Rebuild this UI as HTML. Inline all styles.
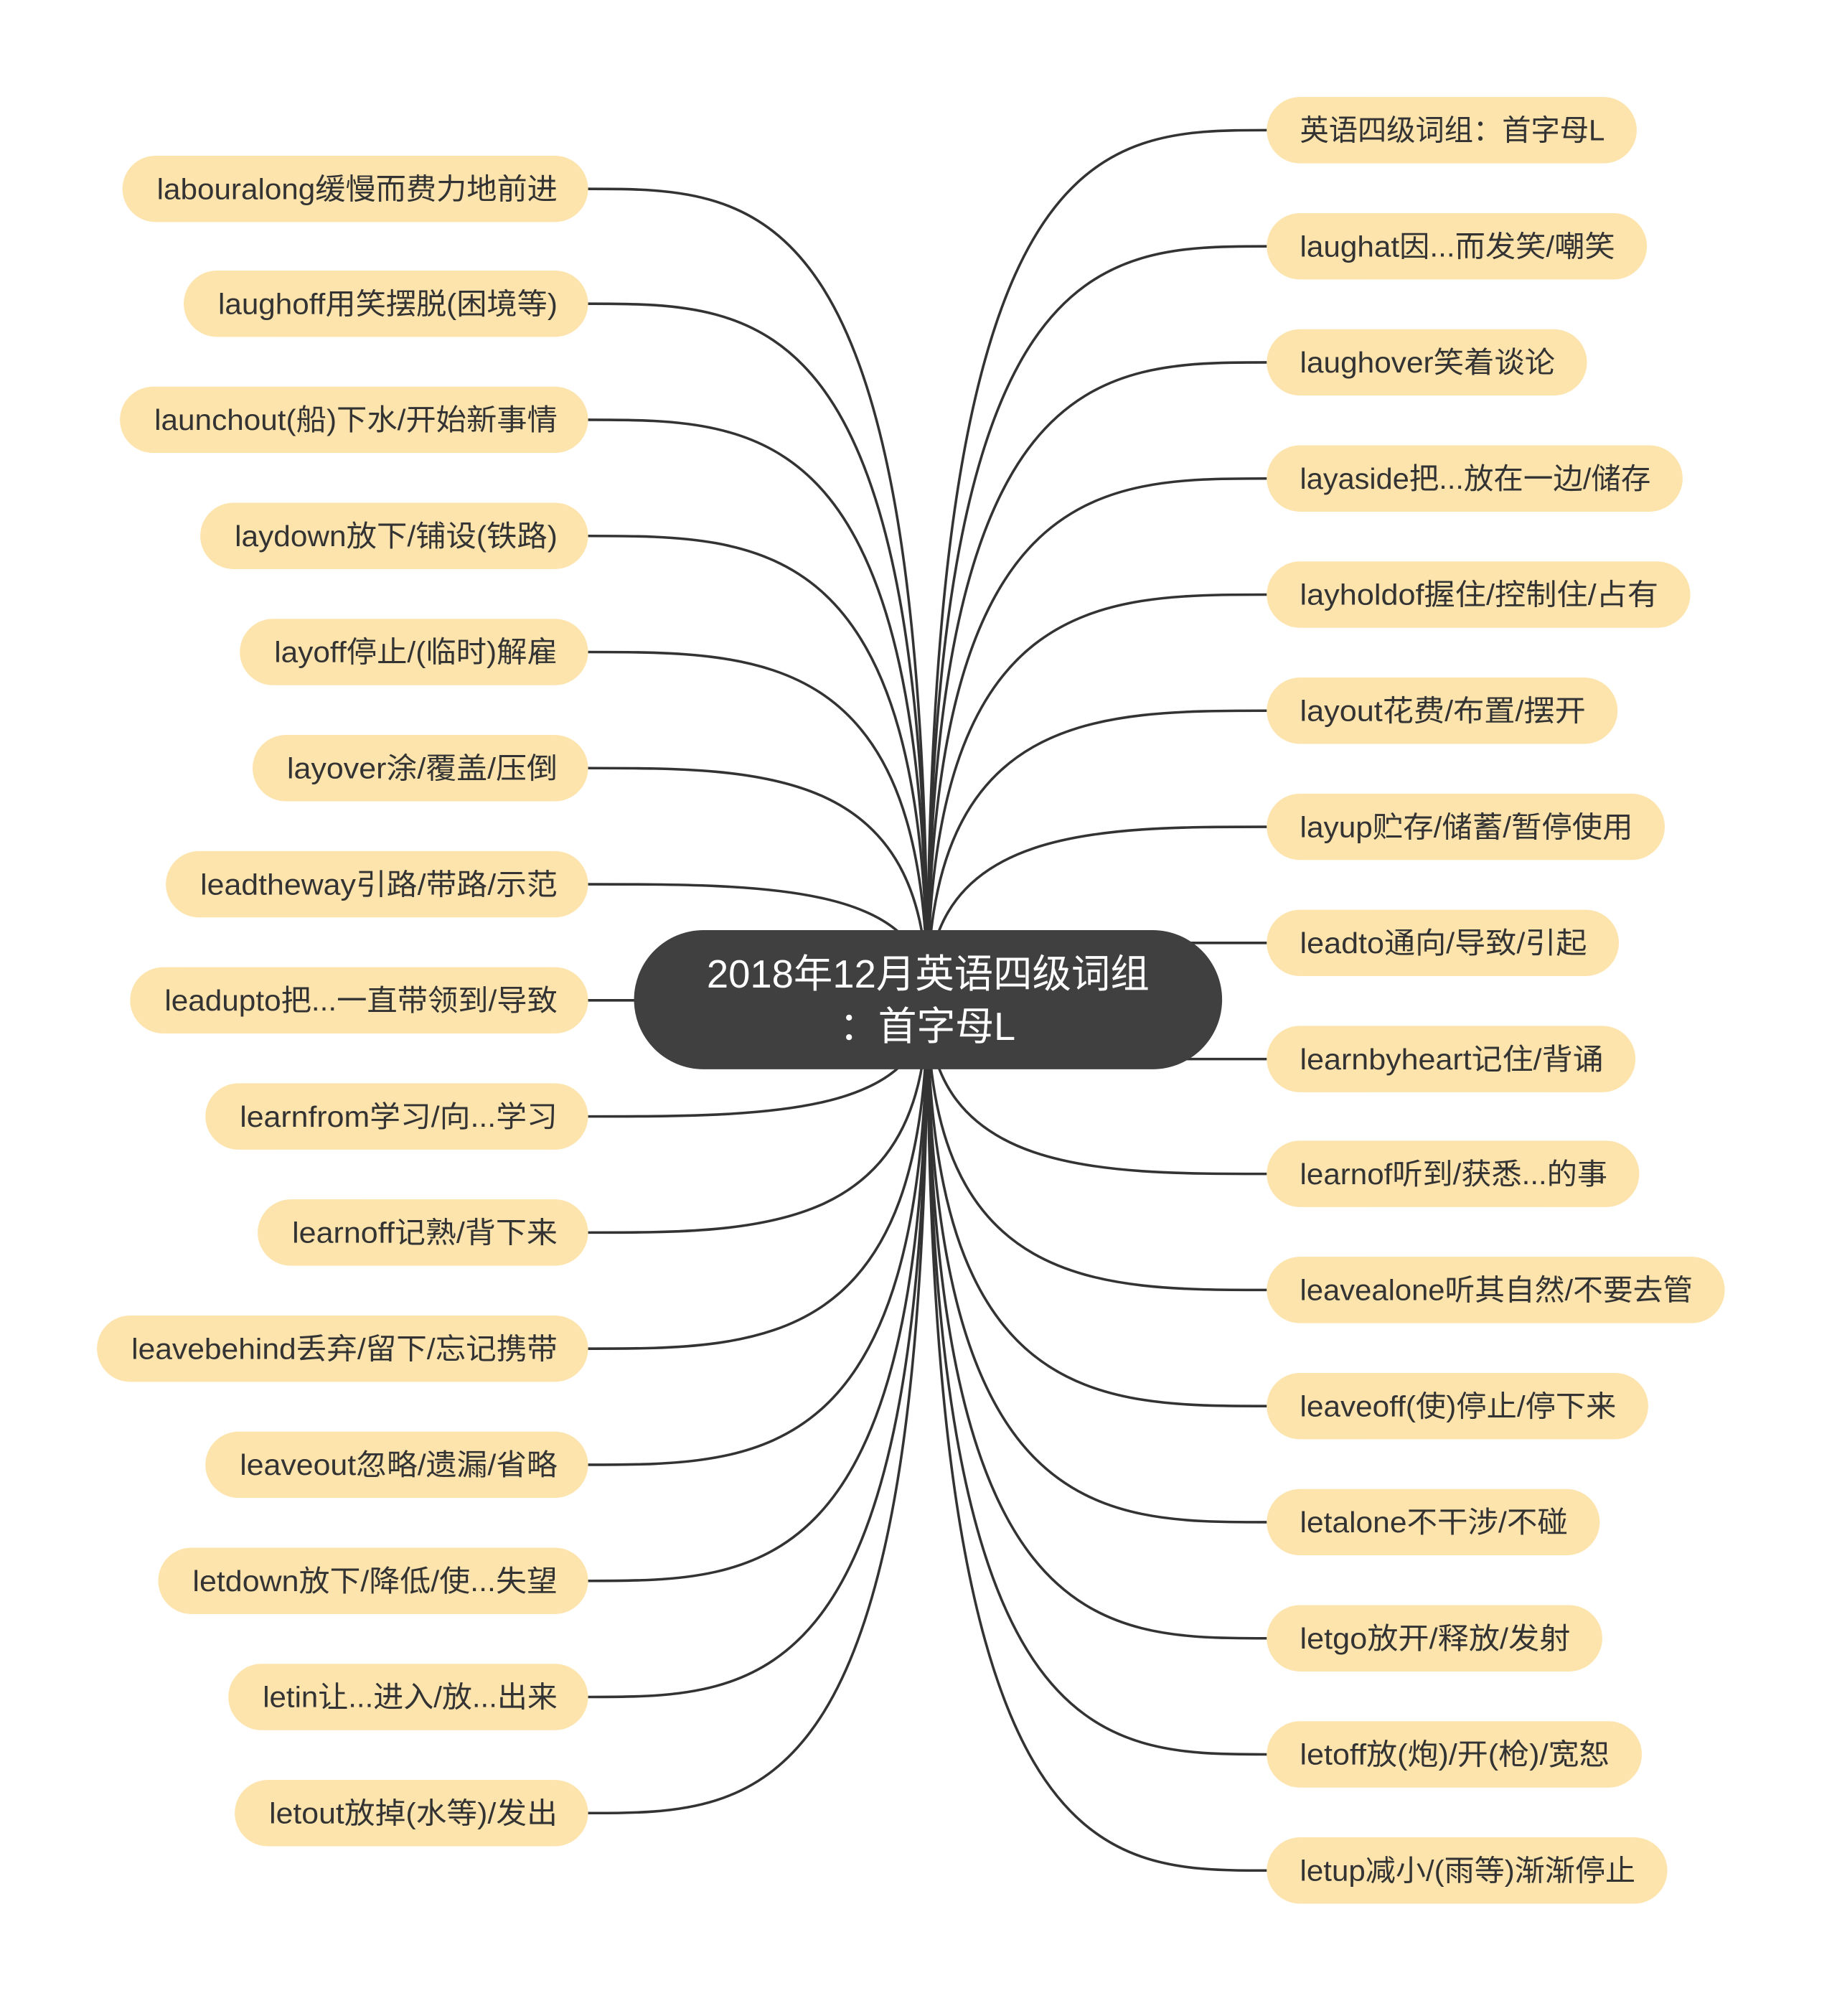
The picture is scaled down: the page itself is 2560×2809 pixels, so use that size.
<!DOCTYPE html>
<html><head><meta charset="utf-8"><style>
html,body{margin:0;padding:0;background:#fff;}
svg{display:block;}
text{font-family:"Liberation Sans","Noto Sans CJK SC",sans-serif;}
</style></head><body>
<svg width="2560" height="2809" viewBox="0 0 1440 1580" xmlns="http://www.w3.org/2000/svg">
<g fill="none" stroke="#333" stroke-width="2">
<path d="M727 783 C727 148,600 148,461 148"/>
<path d="M727 783 C727 238,600 238,461 238"/>
<path d="M727 783 C727 329,600 329,461 329"/>
<path d="M727 783 C727 420,600 420,461 420"/>
<path d="M727 783 C727 511,600 511,461 511"/>
<path d="M727 783 C727 602,600 602,461 602"/>
<path d="M727 783 C727 693,600 693,461 693"/>
<path d="M727 783 C727 784,600 784,461 784"/>
<path d="M727 783 C727 875,600 875,461 875"/>
<path d="M727 783 C727 966,600 966,461 966"/>
<path d="M727 783 C727 1057,600 1057,461 1057"/>
<path d="M727 783 C727 1148,600 1148,461 1148"/>
<path d="M727 783 C727 1239,600 1239,461 1239"/>
<path d="M727 783 C727 1330,600 1330,461 1330"/>
<path d="M727 783 C727 1421,600 1421,461 1421"/>
<path d="M727 783 C727 102,860 102,993 102"/>
<path d="M727 783 C727 193,860 193,993 193"/>
<path d="M727 783 C727 284,860 284,993 284"/>
<path d="M727 783 C727 375,860 375,993 375"/>
<path d="M727 783 C727 466,860 466,993 466"/>
<path d="M727 783 C727 557,860 557,993 557"/>
<path d="M727 783 C727 648,860 648,993 648"/>
<path d="M900 739 L993 739"/>
<path d="M900 830 L993 830"/>
<path d="M727 783 C727 920,860 920,993 920"/>
<path d="M727 783 C727 1011,860 1011,993 1011"/>
<path d="M727 783 C727 1102,860 1102,993 1102"/>
<path d="M727 783 C727 1193,860 1193,993 1193"/>
<path d="M727 783 C727 1284,860 1284,993 1284"/>
<path d="M727 783 C727 1375,860 1375,993 1375"/>
<path d="M727 783 C727 1466,860 1466,993 1466"/>
</g>
<g fill="#fde4ad">
<rect x="96" y="122" width="365" height="52" rx="26"/>
<rect x="144" y="212" width="317" height="52" rx="26"/>
<rect x="94" y="303" width="367" height="52" rx="26"/>
<rect x="157" y="394" width="304" height="52" rx="26"/>
<rect x="188" y="485" width="273" height="52" rx="26"/>
<rect x="198" y="576" width="263" height="52" rx="26"/>
<rect x="130" y="667" width="331" height="52" rx="26"/>
<rect x="102" y="758" width="359" height="52" rx="26"/>
<rect x="161" y="849" width="300" height="52" rx="26"/>
<rect x="202" y="940" width="259" height="52" rx="26"/>
<rect x="76" y="1031" width="385" height="52" rx="26"/>
<rect x="161" y="1122" width="300" height="52" rx="26"/>
<rect x="124" y="1213" width="337" height="52" rx="26"/>
<rect x="179" y="1304" width="282" height="52" rx="26"/>
<rect x="184" y="1395" width="277" height="52" rx="26"/>
<rect x="993" y="76" width="290" height="52" rx="26"/>
<rect x="993" y="167" width="298" height="52" rx="26"/>
<rect x="993" y="258" width="251" height="52" rx="26"/>
<rect x="993" y="349" width="326" height="52" rx="26"/>
<rect x="993" y="440" width="332" height="52" rx="26"/>
<rect x="993" y="531" width="275" height="52" rx="26"/>
<rect x="993" y="622" width="312" height="52" rx="26"/>
<rect x="993" y="713" width="276" height="52" rx="26"/>
<rect x="993" y="804" width="289" height="52" rx="26"/>
<rect x="993" y="894" width="292" height="52" rx="26"/>
<rect x="993" y="985" width="359" height="52" rx="26"/>
<rect x="993" y="1076" width="299" height="52" rx="26"/>
<rect x="993" y="1167" width="261" height="52" rx="26"/>
<rect x="993" y="1258" width="263" height="52" rx="26"/>
<rect x="993" y="1349" width="294" height="52" rx="26"/>
<rect x="993" y="1440" width="314" height="52" rx="26"/>
</g>
<g fill="#333" font-size="23" lengthAdjust="spacingAndGlyphs">
<text x="123" y="156" textLength="314" lengthAdjust="spacingAndGlyphs">labouralong缓慢而费力地前进</text>
<text x="171" y="246" textLength="266" lengthAdjust="spacingAndGlyphs">laughoff用笑摆脱(困境等)</text>
<text x="121" y="337" textLength="316" lengthAdjust="spacingAndGlyphs">launchout(船)下水/开始新事情</text>
<text x="184" y="428" textLength="253" lengthAdjust="spacingAndGlyphs">laydown放下/铺设(铁路)</text>
<text x="215" y="519" textLength="222" lengthAdjust="spacingAndGlyphs">layoff停止/(临时)解雇</text>
<text x="225" y="610" textLength="212" lengthAdjust="spacingAndGlyphs">layover涂/覆盖/压倒</text>
<text x="157" y="701" textLength="280" lengthAdjust="spacingAndGlyphs">leadtheway引路/带路/示范</text>
<text x="129" y="792" textLength="308" lengthAdjust="spacingAndGlyphs">leadupto把...一直带领到/导致</text>
<text x="188" y="883" textLength="249" lengthAdjust="spacingAndGlyphs">learnfrom学习/向...学习</text>
<text x="229" y="974" textLength="208" lengthAdjust="spacingAndGlyphs">learnoff记熟/背下来</text>
<text x="103" y="1065" textLength="334" lengthAdjust="spacingAndGlyphs">leavebehind丢弃/留下/忘记携带</text>
<text x="188" y="1156" textLength="249" lengthAdjust="spacingAndGlyphs">leaveout忽略/遗漏/省略</text>
<text x="151" y="1247" textLength="286" lengthAdjust="spacingAndGlyphs">letdown放下/降低/使...失望</text>
<text x="206" y="1338" textLength="231" lengthAdjust="spacingAndGlyphs">letin让...进入/放...出来</text>
<text x="211" y="1429" textLength="226" lengthAdjust="spacingAndGlyphs">letout放掉(水等)/发出</text>
<text x="1019" y="110" textLength="239" lengthAdjust="spacingAndGlyphs">英语四级词组：首字母L</text>
<text x="1019" y="201" textLength="247" lengthAdjust="spacingAndGlyphs">laughat因...而发笑/嘲笑</text>
<text x="1019" y="292" textLength="200" lengthAdjust="spacingAndGlyphs">laughover笑着谈论</text>
<text x="1019" y="383" textLength="275" lengthAdjust="spacingAndGlyphs">layaside把...放在一边/储存</text>
<text x="1019" y="474" textLength="281" lengthAdjust="spacingAndGlyphs">layholdof握住/控制住/占有</text>
<text x="1019" y="565" textLength="224" lengthAdjust="spacingAndGlyphs">layout花费/布置/摆开</text>
<text x="1019" y="656" textLength="261" lengthAdjust="spacingAndGlyphs">layup贮存/储蓄/暂停使用</text>
<text x="1019" y="747" textLength="225" lengthAdjust="spacingAndGlyphs">leadto通向/导致/引起</text>
<text x="1019" y="838" textLength="238" lengthAdjust="spacingAndGlyphs">learnbyheart记住/背诵</text>
<text x="1019" y="928" textLength="241" lengthAdjust="spacingAndGlyphs">learnof听到/获悉...的事</text>
<text x="1019" y="1019" textLength="308" lengthAdjust="spacingAndGlyphs">leavealone听其自然/不要去管</text>
<text x="1019" y="1110" textLength="248" lengthAdjust="spacingAndGlyphs">leaveoff(使)停止/停下来</text>
<text x="1019" y="1201" textLength="210" lengthAdjust="spacingAndGlyphs">letalone不干涉/不碰</text>
<text x="1019" y="1292" textLength="212" lengthAdjust="spacingAndGlyphs">letgo放开/释放/发射</text>
<text x="1019" y="1383" textLength="243" lengthAdjust="spacingAndGlyphs">letoff放(炮)/开(枪)/宽恕</text>
<text x="1019" y="1474" textLength="263" lengthAdjust="spacingAndGlyphs">letup减小/(雨等)渐渐停止</text>
</g>
<rect x="497" y="729" width="461" height="109" rx="54.5" fill="#404040"/>
<g fill="#fff" font-size="31">
<text x="554" y="774" textLength="347" lengthAdjust="spacingAndGlyphs">2018年12月英语四级词组</text>
<text x="658" y="815" textLength="138" lengthAdjust="spacingAndGlyphs">：首字母L</text>
</g>
</svg>
</body></html>
